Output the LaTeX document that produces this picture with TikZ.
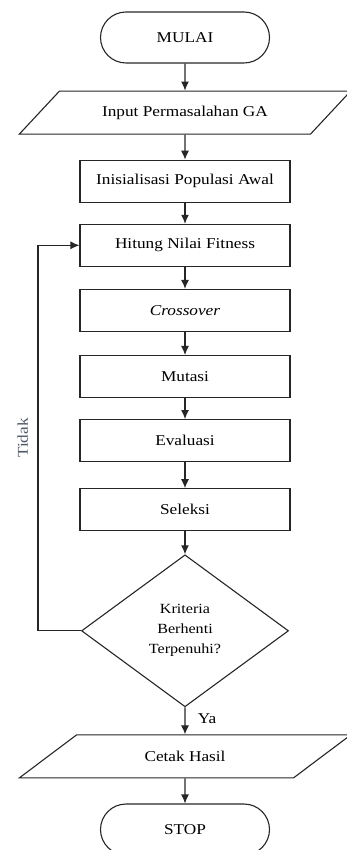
\documentclass[tikz,border=0pt]{standalone}
\usepackage{fontspec}
\setmainfont{Liberation Serif}[FakeStretch=1.15]
\usetikzlibrary{shapes,arrows,arrows.meta,positioning,calc}
\definecolor{tidakgray}{RGB}{80,88,102}

\begin{document}
\begin{tikzpicture}[
    node distance=23pt,
    base/.style={draw=black!85, line width=1.1pt, align=center, font=\fontsize{15}{18}\selectfont, inner sep=2pt},
    term/.style={base, rounded rectangle, minimum width=173pt, minimum height=51pt},
    io/.style={base, trapezium, trapezium left angle=33, trapezium right angle=147, trapezium stretches=true, minimum width=332pt, minimum height=43pt},
    proc/.style={base, minimum width=210pt, minimum height=42pt},
    dec/.style={base, diamond, aspect=1.36, minimum width=207pt, minimum height=152pt, inner sep=0pt, font=\fontsize{14}{20}\selectfont},
    arrow/.style={-{Latex[length=9pt,width=8pt]}, line width=1.1pt, draw=black!85}
]
\useasboundingbox (0,0) rectangle (346pt,-850pt);
\node (mulai) [term] at (185pt,-37.5pt) {MULAI};
\node (input) [io, below=27pt of mulai] {Input Permasalahan GA};
\node (init) [proc, below=25pt of input] {Inisialisasi Populasi Awal};
\node (hitung) [proc, below=21pt of init] {Hitung Nilai Fitness};
\node (cross) [proc, below=22pt of hitung] {\textit{Crossover}};
\node (mutasi) [proc, below=of cross] {Mutasi};
\node (eval) [proc, below=21pt of mutasi] {Evaluasi};
\node (seleksi) [proc, below=26pt of eval] {Seleksi};
\node (cek) [dec, below=of seleksi] {Kriteria\\Berhenti\\Terpenuhi?};
\node (cetak) [io, below=27pt of cek] {Cetak Hasil};
\node (stop) [term, below=25pt of cetak] {STOP};
\draw [arrow] (mulai) -- (input);
\draw [arrow] (input) -- (init);
\draw [arrow] (init) -- (hitung);
\draw [arrow] (hitung) -- (cross);
\draw [arrow] (cross) -- (mutasi);
\draw [arrow] (mutasi) -- (eval);
\draw [arrow] (eval) -- (seleksi);
\draw [arrow] (seleksi) -- (cek);
\draw [arrow] (cek) -- node[right=9pt, pos=0.4, font=\fontsize{15}{18}\selectfont] {Ya} (cetak);
\draw [arrow] (cetak) -- (stop);
\draw [arrow] (cek.west) -- ++(-43pt,0) |- node[pos=0.25, sloped, above=6pt, text=tidakgray, font=\fontsize{15}{18}\selectfont] {Tidak} (hitung.west);
\end{tikzpicture}
\end{document}
